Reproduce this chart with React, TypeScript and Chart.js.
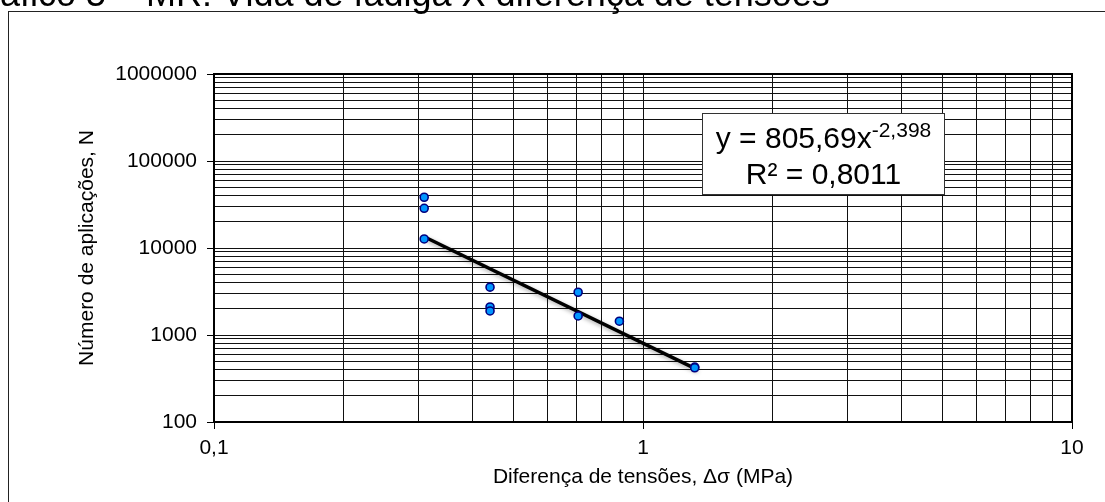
import React, { useEffect, useRef } from 'react';
import { Chart, registerables } from 'chart.js';

Chart.register(...registerables);

// ---- data ----
const xValues = [0.309, 0.309, 0.309, 0.44, 0.44, 0.44, 0.706, 0.706, 0.881, 1.32, 1.32];
const yValues = [38300, 28600, 12700, 3550, 2100, 1890, 3100, 1655, 1440, 428, 420];
const trendX = [0.309, 1.32];
const trendY = [13470, 414];

const xTickValues = [0.1, 0.2, 0.3, 0.4, 0.5, 0.6, 0.7, 0.8, 0.9, 1, 2, 3, 4, 5, 6, 7, 8, 9, 10];
const xLabelValues = [0.1, 1, 10];
const xTickLabels = ['0,1', '1', '10'];

const yTickValues = [
  100, 200, 300, 400, 500, 600, 700, 800, 900,
  1000, 2000, 3000, 4000, 5000, 6000, 7000, 8000, 9000,
  10000, 20000, 30000, 40000, 50000, 60000, 70000, 80000, 90000,
  100000, 200000, 300000, 400000, 500000, 600000, 700000, 800000, 900000,
  1000000,
];
const yLabelValues = [100, 1000, 10000, 100000, 1000000];
const yTickLabels = ['100', '1000', '10000', '100000', '1000000'];

const chartTitle = 'Gráfico 5 – MR: Vida de fadiga X diferença de tensões';
const xTitle = 'Diferença de tensões, Δσ (MPa)';
const yTitle = 'Número de aplicações, N';
const eqMain = 'y = 805,69x';
const eqExp = '-2,398';
const eqR2 = 'R² = 0,8011';

const FONT = "Arial, 'Liberation Sans', sans-serif";

const findIdx = (arr: number[], v: number) => arr.findIndex((a) => Math.abs(a - v) / a < 1e-6);

const decorPlugin = {
  id: 'decor',
  beforeDatasetDraw(chart: any, args: any) {
    if (args.index === 1) {
      const ctx = chart.ctx;
      ctx.save();
      ctx.shadowColor = 'rgba(0,0,0,0.35)';
      ctx.shadowBlur = 4;
      ctx.shadowOffsetX = 3;
      ctx.shadowOffsetY = 3;
    }
  },
  afterDatasetDraw(chart: any, args: any) {
    if (args.index === 1) chart.ctx.restore();
  },
  afterDraw(chart: any) {
    const ctx = chart.ctx;
    const ca = chart.chartArea;
    ctx.save();
    // plot area border
    ctx.strokeStyle = '#000';
    ctx.lineWidth = 2;
    ctx.strokeRect(ca.left, ca.top, ca.right - ca.left, ca.bottom - ca.top);
    // outer chart frame
    ctx.strokeStyle = '#222';
    ctx.lineWidth = 1;
    ctx.strokeRect(8.5, 11.5, 1300, 700);
    // cut-off title above the frame
    ctx.fillStyle = '#000';
    ctx.font = `36px ${FONT}`;
    ctx.textAlign = 'left';
    ctx.textBaseline = 'alphabetic';
    ctx.fillText(chartTitle, -40, 6);

    // equation box
    const bx = Math.round(ca.left + 488) + 0.5;
    const by = Math.round(ca.top + 39) + 0.5;
    const bw = 242;
    const bh = 81;
    ctx.fillStyle = '#fff';
    ctx.fillRect(bx, by, bw, bh);
    ctx.strokeStyle = '#333';
    ctx.lineWidth = 1;
    ctx.strokeRect(bx, by, bw, bh);
    const cx = bx + bw / 2;
    ctx.fillStyle = '#000';
    ctx.font = `30px ${FONT}`;
    const w1 = ctx.measureText(eqMain).width;
    ctx.font = `21px ${FONT}`;
    const w2 = ctx.measureText(eqExp).width;
    const sx = cx - (w1 + w2) / 2;
    ctx.font = `30px ${FONT}`;
    ctx.fillText(eqMain, sx, by + 34);
    ctx.font = `21px ${FONT}`;
    ctx.fillText(eqExp, sx + w1, by + 23);
    ctx.font = `30px ${FONT}`;
    ctx.textAlign = 'center';
    ctx.fillText(eqR2, cx, by + 70);
    ctx.restore();
  },
};

export default function App() {
  const ref = useRef<HTMLCanvasElement | null>(null);

  useEffect(() => {
    if (!ref.current) return;
    Chart.defaults.font.family = FONT;
    const chart = new Chart(ref.current, {
      type: 'scatter',
      data: {
        datasets: [
          {
            label: 'N',
            data: xValues.map((x, i) => ({ x, y: yValues[i] })),
            backgroundColor: '#0096FF',
            borderColor: '#00007F',
            borderWidth: 1.6,
            pointRadius: 4,
            order: 0,
          },
          {
            label: 'Potência',
            type: 'line',
            data: trendX.map((x, i) => ({ x, y: trendY[i] })),
            borderColor: '#000',
            borderWidth: 3.5,
            pointRadius: 0,
            fill: false,
            order: 1,
          } as any,
        ],
      },
      options: {
        animation: false,
        responsive: false,
        devicePixelRatio: 1,
        layout: { padding: { top: 74, right: 33, left: 0, bottom: 0 } },
        plugins: { legend: { display: false }, tooltip: { enabled: false }, title: { display: false } },
        scales: {
          x: {
            type: 'logarithmic',
            position: 'bottom',
            min: 0.1,
            max: 10,
            afterBuildTicks: (scale: any) => {
              scale.ticks = xTickValues.map((v) => ({ value: v }));
            },
            afterFit: (scale: any) => {
              scale.height = 80;
            },
            grid: {
              color: '#111',
              lineWidth: 1,
              tickLength: 7,
              tickColor: (c: any) => (c.tick && findIdx(xLabelValues, c.tick.value) >= 0 ? '#000' : 'rgba(0,0,0,0)'),
            },
            border: { display: true, color: '#000', width: 2 },
            ticks: {
              autoSkip: false,
              maxRotation: 0,
              padding: 7,
              color: '#000',
              font: { size: 21, family: FONT },
              callback: (value: any) => {
                const i = findIdx(xLabelValues, Number(value));
                return i >= 0 ? xTickLabels[i] : '';
              },
            },
            title: {
              display: true,
              text: xTitle,
              color: '#000',
              font: { size: 21, family: FONT },
              padding: { top: 0, bottom: 12 },
            },
          },
          y: {
            type: 'logarithmic',
            position: 'left',
            min: 100,
            max: 1000000,
            afterBuildTicks: (scale: any) => {
              scale.ticks = yTickValues.map((v) => ({ value: v }));
            },
            afterFit: (scale: any) => {
              scale.width = 214;
            },
            grid: {
              color: '#111',
              lineWidth: 1,
              tickLength: 7,
              tickColor: (c: any) => (c.tick && findIdx(yLabelValues, c.tick.value) >= 0 ? '#000' : 'rgba(0,0,0,0)'),
            },
            border: { display: true, color: '#000', width: 2 },
            ticks: {
              autoSkip: false,
              padding: 10,
              color: '#000',
              font: { size: 21, family: FONT },
              callback: (value: any) => {
                const i = findIdx(yLabelValues, Number(value));
                return i >= 0 ? yTickLabels[i] : '';
              },
            },
            title: {
              display: true,
              text: yTitle,
              color: '#000',
              font: { size: 21, family: FONT },
              padding: { top: 75, bottom: 0 },
            },
          },
        },
      },
      plugins: [decorPlugin],
    });
    return () => chart.destroy();
  }, []);

  return (
    <canvas
      ref={ref}
      width={1105}
      height={502}
      style={{ position: 'fixed', left: 0, top: 0, width: 1105, height: 502, display: 'block', background: '#fff' }}
    />
  );
}
